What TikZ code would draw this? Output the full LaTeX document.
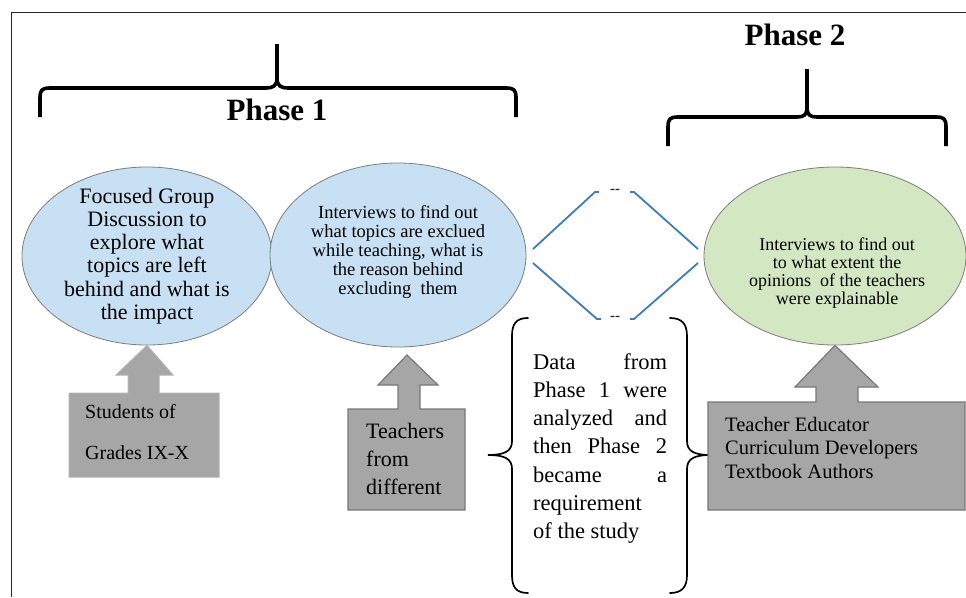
\documentclass[tikz,border=0pt]{standalone}
\usepackage{fontspec}
\setmainfont{Liberation Serif}
\usetikzlibrary{shapes.geometric}
\definecolor{ellblue}{RGB}{200,224,243}
\definecolor{ellgreen}{RGB}{212,231,195}
\definecolor{ellline}{RGB}{125,125,125}
\definecolor{calfill}{RGB}{166,166,166}
\definecolor{calline}{RGB}{120,120,120}
\definecolor{connblue}{RGB}{62,124,190}
\begin{document}
\begin{tikzpicture}[x=1pt,y=-1pt,
  oval/.style={ellipse, draw=ellline, line width=0.8pt, inner sep=0pt},
  callout/.style={fill=calfill, draw=calline, line width=1.2pt, line join=miter},
  calloutlite/.style={fill=calfill, draw=calfill!85!white, line width=1pt},
  bigbrace/.style={line width=3.6pt, line cap=butt, line join=round},
  textbrace/.style={line width=1.7pt, line cap=round},
  conn/.style={draw=connblue, line width=1.8pt},
  phase/.style={font=\fontsize{31}{31}\selectfont\bfseries, inner sep=0pt},
  dash2/.style={font=\fontsize{15}{15}\selectfont\bfseries, inner sep=0pt, text=black!85}]
\useasboundingbox[fill=white] (0,0) rectangle (966,597);
% frame
\draw[line width=1pt, black!85] (11,597) -- (11,12) -- (966,12);

% headings
\node[phase] (p1) at (277,110) {Phase 1};
\node[phase] (p2) at (795,35) {Phase 2};

% Phase 1 brace
\draw[bigbrace] (40,117) -- (40,98) .. controls (40,90) and (42,88) .. (50,88)
  -- (266,88) .. controls (273,88) and (277,86) .. (277,78) -- (277,44);
\draw[bigbrace] (277,78) .. controls (277,86) and (281,88) .. (288,88)
  -- (506,88) .. controls (514,88) and (516,90) .. (516,98) -- (516,117);
% Phase 2 brace
\draw[bigbrace] (668,146) -- (668,127) .. controls (668,119) and (670,117) .. (678,117)
  -- (797,117) .. controls (804,117) and (807,115) .. (807,107) -- (807,69);
\draw[bigbrace] (807,107) .. controls (807,115) and (810,117) .. (817,117)
  -- (936,117) .. controls (944,117) and (946,119) .. (946,127) -- (946,146);

% ellipses
\node[oval, fill=ellblue, minimum width=250pt, minimum height=178pt] (e1) at (147,256) {};
\node[oval, fill=ellblue, minimum width=256pt, minimum height=184pt] (e2) at (398,255) {};
\node[oval, fill=ellgreen, minimum width=262pt, minimum height=178pt] (e3) at (835,256) {};

\node[align=center, inner sep=0pt, font=\fontsize{22}{23.3}\selectfont] (t1) at (e1.center)
  {Focused Group\\Discussion to\\explore what\\topics are left\\behind and what is\\the impact};
\node[align=center, inner sep=0pt, font=\fontsize{18.5}{18.8}\selectfont] (t2) at ([yshift=3pt]e2.center)
  {Interviews to find out\\what topics are exclued\\while teaching, what is\\the reason behind\\excluding\ \ them};
\node[align=center, inner sep=0pt, font=\fontsize{18}{18}\selectfont] (t3) at (837,273)
  {Interviews to find out\\to what extent the\\opinions\ \ of the teachers\\were explainable};

% blue connectors between phase 1 and phase 2
\coordinate (a1) at (533,249); \coordinate (a2) at (595,192); \coordinate (a3) at (599,192);
\coordinate (b1) at (698,249); \coordinate (b2) at (634,192); \coordinate (b3) at (630,192);
\coordinate (c1) at (533,263); \coordinate (c2) at (597,319); \coordinate (c3) at (601,319);
\coordinate (d1) at (698,263); \coordinate (d2) at (634,319); \coordinate (d3) at (630,319);
\draw[conn] (a1) -- (a2) -- (a3);
\draw[conn] (b1) -- (b2) -- (b3);
\draw[conn] (c1) -- (c2) -- (c3);
\draw[conn] (d1) -- (d2) -- (d3);
\node[dash2] (m1) at (615,191) {-{}-};
\node[dash2] (m2) at (615,318) {-{}-};

% middle braces and text
\draw[textbrace] (528,318) .. controls (516,318) and (512,324) .. (512,336) -- (512,441)
  .. controls (512,451) and (505,455) .. (488,455)
  .. controls (505,455) and (512,459) .. (512,469) -- (512,575)
  .. controls (512,587) and (516,593) .. (528,593);
\draw[textbrace] (670,318) .. controls (682,318) and (687,324) .. (687,336) -- (687,441)
  .. controls (687,451) and (694,455) .. (710,455)
  .. controls (694,455) and (687,459) .. (687,469) -- (687,575)
  .. controls (687,587) and (682,593) .. (670,593);
\node[anchor=north west, inner sep=0pt, align=left, font=\fontsize{22.5}{28.3}\selectfont] (mid) at (533,349)
  {\strut\hbox to 134pt{Data\hfill from}\\
   \hbox to 134pt{Phase\hfill 1\hfill were}\\
   \hbox to 134pt{analyzed\hfill and}\\
   \hbox to 134pt{then\hfill Phase\hfill 2}\\
   \hbox to 134pt{became\hfill a}\\
   requirement\\
   of the study};

% callouts
\draw[calloutlite] (69,477) -- (69,393) -- (128,393) -- (128,375) -- (116,375) -- (e1.south)
  -- (173,375) -- (159,375) -- (159,393) -- (219,393) -- (219,477) -- cycle;
\node[anchor=north west, inner sep=0pt, align=left, font=\fontsize{20}{41}\selectfont] (s1) at (85,389.5)
  {\strut Students of\\Grades IX-X};

\draw[callout] (348,510) -- (348,409) -- (398,409) -- (398,385) -- (378,385) -- (407,355)
  -- (438,385) -- (420,385) -- (420,409) -- (465,409) -- (465,510) -- cycle;
\node[anchor=north west, inner sep=0pt, align=left, font=\fontsize{22}{28}\selectfont] (s2) at (366,418.5)
  {\strut Teachers\\from\\different};

\draw[callout] (708,510) -- (708,402) -- (816,402) -- (816,387) -- (795,387) -- (e3.south)
  -- (878,387) -- (858,387) -- (858,402) -- (965,402) -- (965,510) -- cycle;
\node[anchor=north west, inner sep=0pt, align=left, font=\fontsize{20.5}{23.5}\selectfont] (s3) at (725,414.5)
  {\strut Teacher Educator\\Curriculum Developers\\Textbook Authors};
\end{tikzpicture}
\end{document}
